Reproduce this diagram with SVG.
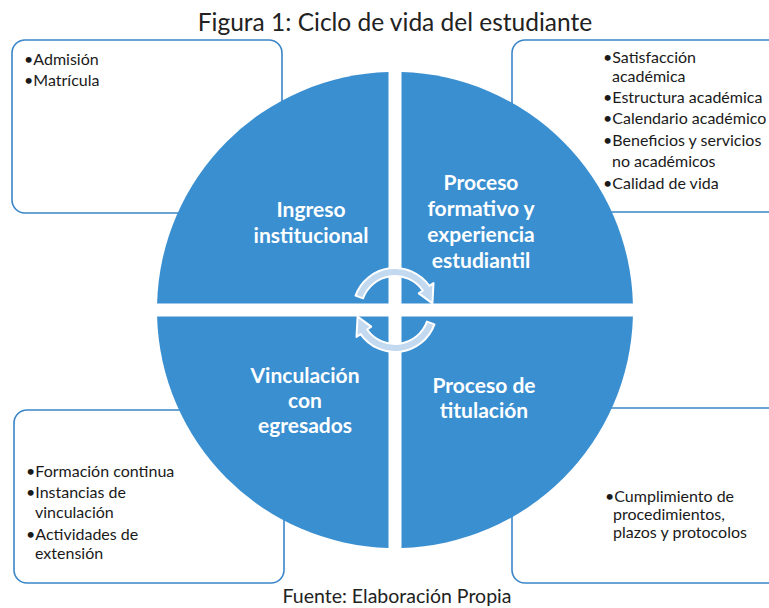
<svg xmlns="http://www.w3.org/2000/svg" width="769" height="608" viewBox="0 0 769 608">
<style>
.box{fill:#fff;stroke:#3a86c8;stroke-width:1.6}
.q{fill:#3a8fd1}
.qt{font-family:Lato,"Open Sans",sans-serif;font-weight:bold;font-size:21px;fill:#fff;text-anchor:middle}
.bt{font-family:Lato,"Open Sans",sans-serif;font-size:16px;fill:#1a1a1a}
.cap{font-family:Lato,"Open Sans",sans-serif;fill:#222;text-anchor:middle}
.arr{fill:#c3d9f0;stroke:#fff;stroke-width:2;stroke-linejoin:round}
</style>
<rect width="769" height="608" fill="#fff"/>
<text class="cap" x="395" y="31" font-size="24.5">Figura 1: Ciclo de vida del estudiante</text>

<g id="box-ingreso">
<rect class="box" x="12" y="40" width="270" height="173" rx="13"/>
<text class="bt" x="24" y="65">•Admisión</text>
<text class="bt" x="24" y="86">•Matrícula</text>
</g>
<g id="box-proceso-formativo">
<rect class="box" x="512" y="40" width="270" height="172" rx="13"/>
<text class="bt" x="603" y="63">•Satisfacción</text>
<text class="bt" x="612" y="82">académica</text>
<text class="bt" x="603" y="103">•Estructura académica</text>
<text class="bt" x="603" y="124">•Calendario académico</text>
<text class="bt" x="603" y="146">•Beneficios y servicios</text>
<text class="bt" x="612" y="167">no académicos</text>
<text class="bt" x="603" y="189">•Calidad de vida</text>
</g>
<g id="box-vinculacion">
<rect class="box" x="14" y="410" width="270" height="173" rx="13"/>
<text class="bt" x="26" y="477">•Formación continua</text>
<text class="bt" x="26" y="498">•Instancias de</text>
<text class="bt" x="35" y="518">vinculación</text>
<text class="bt" x="26" y="540">•Actividades de</text>
<text class="bt" x="35" y="559">extensión</text>
</g>
<g id="box-titulacion">
<rect class="box" x="512" y="408" width="270" height="175" rx="13"/>
<text class="bt" x="605" y="502">•Cumplimiento de</text>
<text class="bt" x="613" y="520">procedimientos,</text>
<text class="bt" x="613" y="538">plazos y protocolos</text>
</g>

<g id="q-ingreso">
<path class="q" d="M388.5,303.5 V72.09 A238,238 0 0 0 157.09,303.5 Z"/>
<text class="qt" x="311" y="217">Ingreso</text>
<text class="qt" x="311" y="243">institucional</text>
</g>
<g id="q-proceso-formativo">
<path class="q" d="M401.5,303.5 H632.91 A238,238 0 0 0 401.5,72.09 Z"/>
<text class="qt" x="481" y="190">Proceso</text>
<text class="qt" x="481" y="216">formativo y</text>
<text class="qt" x="481" y="242">experiencia</text>
<text class="qt" x="481" y="268">estudiantil</text>
</g>
<g id="q-titulacion">
<path class="q" d="M401.5,316.5 V547.91 A238,238 0 0 0 632.91,316.5 Z"/>
<text class="qt" x="484" y="393">Proceso de</text>
<text class="qt" x="484" y="418">titulación</text>
</g>
<g id="q-vinculacion">
<path class="q" d="M388.5,316.5 H157.09 A238,238 0 0 0 388.5,547.91 Z"/>
<text class="qt" x="305" y="383">Vinculación</text>
<text class="qt" x="305" y="408">con</text>
<text class="qt" x="305" y="433">egresados</text>
</g>

<g id="connectors">
<path class="arr" d="M355.53,295.64 A42,42 0 0 1 429.41,285.91 L433.5,283.04 L432.42,303.4 L418.76,293.37 L422.85,290.5 A34,34 0 0 0 363.05,298.37 Z"/>
<path class="arr" d="M434.47,324.36 A42,42 0 0 1 360.59,334.09 L356.5,336.96 L357.58,316.6 L371.24,326.63 L367.15,329.5 A34,34 0 0 0 426.95,321.63 Z"/>
</g>

<text class="cap" x="397" y="603" font-size="19.5">Fuente: Elaboración Propia</text>
</svg>
